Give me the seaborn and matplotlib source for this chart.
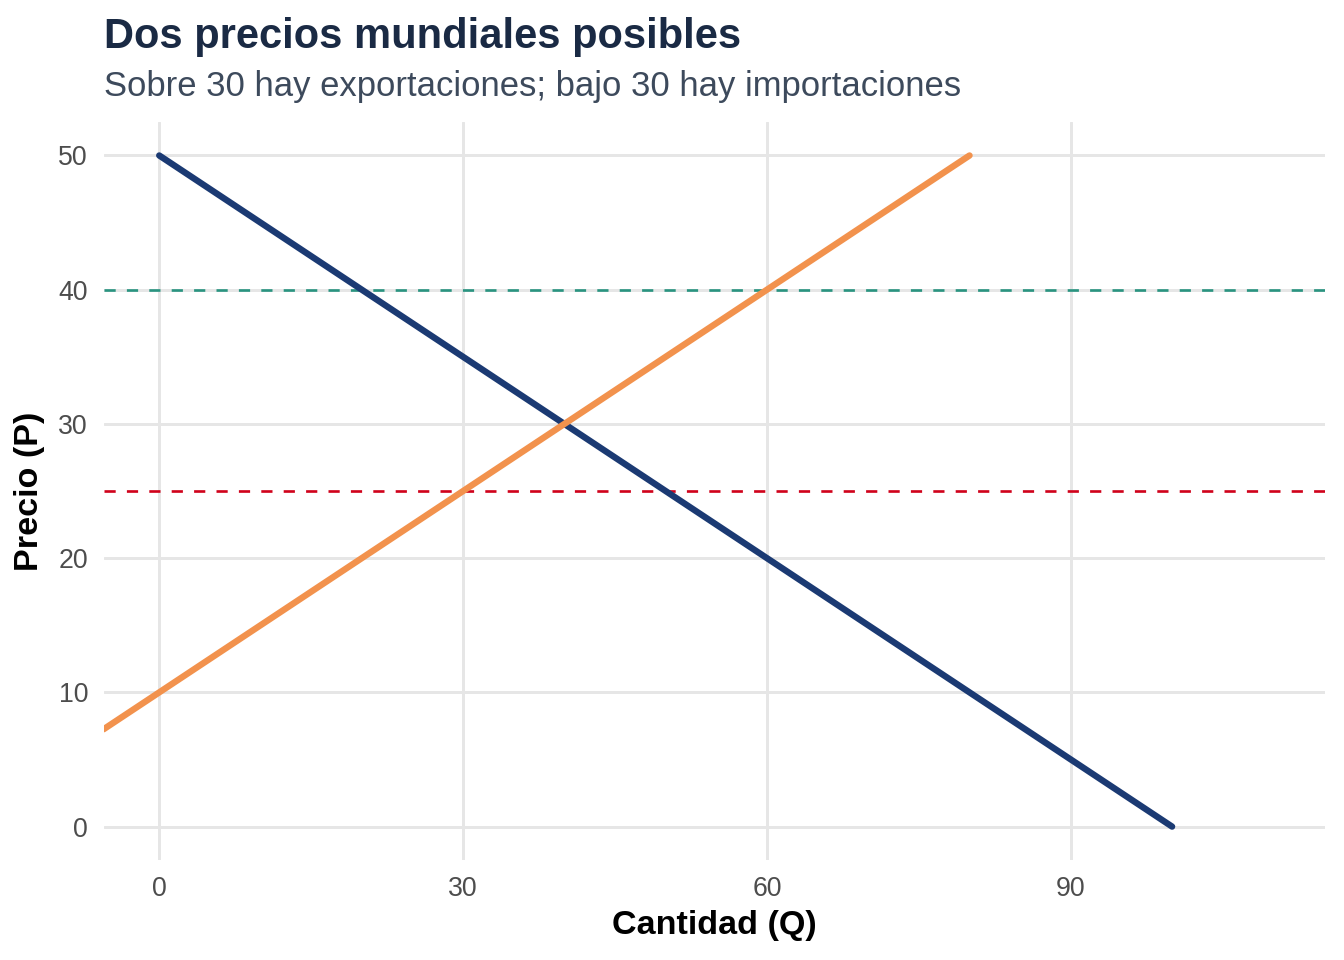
import matplotlib
matplotlib.use("Agg")
import matplotlib.pyplot as plt
import seaborn as sns
import pandas as pd

# curves
demand_q = [0, 100]
demand_p = [50, 0]
supply_q = [-5.5, 80]
supply_p = [7.25, 50]

# world prices (dashed)
world_prices = [40, 25]
world_colors = ["#2a9480", "#d0021b"]

x_ticks = [0, 30, 60, 90]
y_ticks = [0, 10, 20, 30, 40, 50]

sns.set_theme(style="white")
plt.rcParams["font.family"] = ["Liberation Sans", "DejaVu Sans"]

fig = plt.figure(figsize=(7, 5), dpi=192)
ax = fig.add_axes([0.0774, 0.104, 0.9085, 0.769])

grid_c = "#e6e6e6"
for xv in x_ticks:
    ax.axvline(xv, color=grid_c, lw=1.1, zorder=0)
for yv in y_ticks:
    ax.axhline(yv, color=grid_c, lw=1.1, zorder=0)

for p, c in zip(world_prices, world_colors):
    ax.axhline(p, color=c, lw=1.0, dashes=(4.2, 4.2), zorder=1)

df_d = pd.DataFrame({"Q": demand_q, "P": demand_p})
df_s = pd.DataFrame({"Q": supply_q, "P": supply_p})
sns.lineplot(data=df_d, x="Q", y="P", color="#1b3a73", lw=2.4, ax=ax, zorder=3)
sns.lineplot(data=df_s, x="Q", y="P", color="#f2924d", lw=2.4, ax=ax, zorder=3)

ax.set_xlim(-5.45, 115.1)
ax.set_ylim(-2.5, 52.5)
ax.set_xticks(x_ticks)
ax.set_yticks(y_ticks)
ax.tick_params(axis="both", labelsize=10, labelcolor="#4d4d4d", length=0, pad=6)
for s in ax.spines.values():
    s.set_visible(False)

ax.set_xlabel("Cantidad (Q)", fontsize=12.8, fontweight="bold", color="black", labelpad=3)
ax.set_ylabel("Precio (P)", fontsize=12.8, fontweight="bold", color="black", labelpad=5)

fig.text(0.0774, 0.950, "Dos precios mundiales posibles", fontsize=15.6,
         fontweight="bold", color="#1a2a44", ha="left", va="baseline")
fig.text(0.0774, 0.900, "Sobre 30 hay exportaciones; bajo 30 hay importaciones",
         fontsize=13.0, color="#3d4a5c", ha="left", va="baseline")

fig.savefig("out.png", dpi=192)
